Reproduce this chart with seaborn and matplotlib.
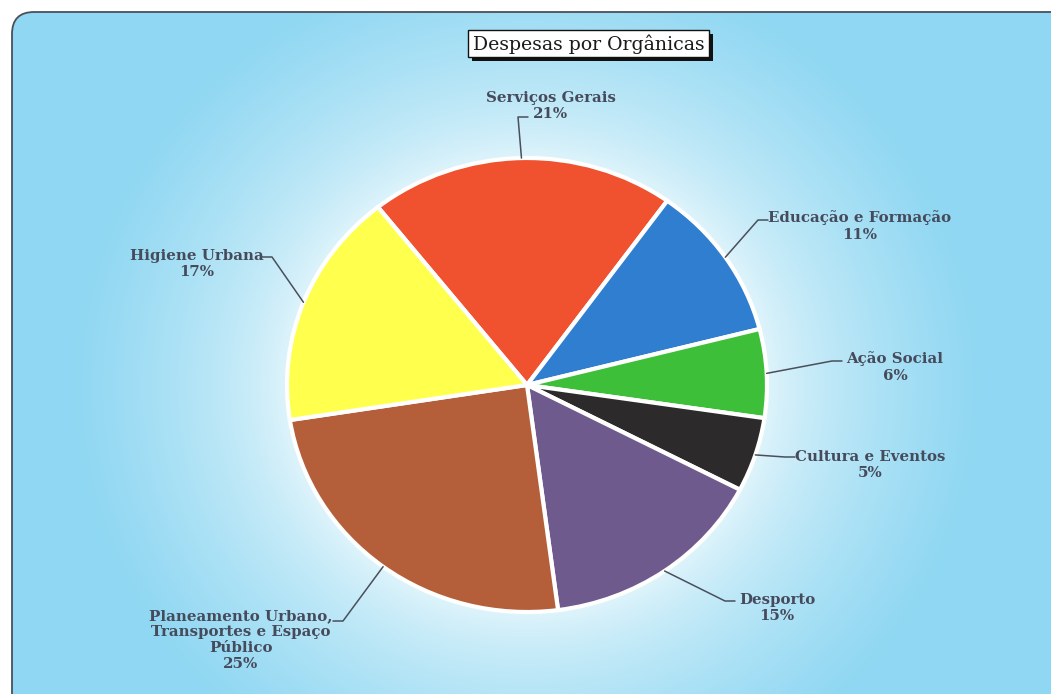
import numpy as np
import matplotlib.pyplot as plt
import seaborn as sns
from matplotlib.patches import FancyBboxPatch, Rectangle

# --- Data ---
categories = [
    'Serviços Gerais',
    'Educação e Formação',
    'Ação Social',
    'Cultura e Eventos',
    'Desporto',
    'Planeamento Urbano,\nTransportes e Espaço\nPúblico',
    'Higiene Urbana',
]
shares = [20.6, 11.1, 6.3, 5.3, 15.3, 24.6, 16.8]
slice_colors = ['#f0522f', '#2f7ed0', '#3dbf3a', '#2d2a2b', '#6f5a8e', '#b45f3a', '#ffff4d']
chart_title = 'Despesas por Orgânicas'

# --- Layout (pixels) ---
W, H = 1051, 694
CX, CY = 527, 385          # pie centre
RX, RY = 240, 227          # pie radii (scan is slightly stretched)
label_centers = [(551, 106), (860, 226), (895, 367), (870, 465),
                 (777, 608), (241, 640), (197, 264)]
label_anchors = [(528, 117), (768, 220), (842, 361), (795, 457),
                 (735, 601), (333, 621), (262, 257)]
text_color = '#464b5c'
blue_bg = np.array([143, 215, 242]) / 255
glow = np.array([240, 250, 253]) / 255


def to_data(px, py):
    return (px - CX) / RX, (CY - py) / RY


sns.set_theme(style='white')
plt.rcParams['font.family'] = ['DejaVu Serif', 'DejaVu Sans']

fig = plt.figure(figsize=(W / 100, H / 100), dpi=100)
fig.patch.set_facecolor('white')

# --- Background with radial glow inside rounded frame ---
bg = fig.add_axes([0, 0, 1, 1])
bg.set_xlim(0, W)
bg.set_ylim(H, 0)
bg.axis('off')

yy, xx = np.mgrid[0:H, 0:W]
d = np.sqrt(((xx - CX) / RX) ** 2 + ((yy - CY) / RY) ** 2)
t = np.clip((d - 0.95) / 0.95, 0, 1) ** 0.6
img = glow[None, None, :] * (1 - t[..., None]) + blue_bg[None, None, :] * t[..., None]

frame = FancyBboxPatch((12, 12), W + 40, H + 40,
                       boxstyle='round,pad=0,rounding_size=22',
                       facecolor='none', edgecolor='#4a4f5a', linewidth=1.3, zorder=3)
bg.add_patch(frame)
im = bg.imshow(img, extent=(0, W, H, 0), zorder=1, aspect='auto')
im.set_clip_path(frame)

# title box with drop shadow
bg.add_patch(Rectangle((472, 34), 241, 27, facecolor='#111111', edgecolor='none', zorder=4))
bg.add_patch(Rectangle((468, 30), 241, 27, facecolor='white', edgecolor='#111111',
                       linewidth=1.0, zorder=5))
bg.text(588.5, 44, chart_title, ha='center', va='center', fontsize=13.6,
        color='#1a1a1a', zorder=6)

# --- Pie ---
ax = fig.add_axes([0, 0, 1, 1])
ax.patch.set_alpha(0)
wedges, _ = ax.pie(shares, colors=slice_colors, startangle=128.4, counterclock=False,
                   wedgeprops=dict(edgecolor='white', linewidth=3))
ax.set_aspect('auto')
ax.set_xlim(-CX / RX, (W - CX) / RX)
ax.set_ylim((CY - H) / RY, CY / RY)
ax.axis('off')

total = sum(shares)
for w, name, v, c, a in zip(wedges, categories, shares, label_centers, label_anchors):
    mid = np.deg2rad((w.theta1 + w.theta2) / 2)
    ex, ey = np.cos(mid), np.sin(mid)
    elbow_px = a[0] - 10 if a[0] > CX else a[0] + 10
    bx, by = to_data(elbow_px, a[1])
    axx, ayy = to_data(*a)
    ax.plot([ex, bx, axx], [ey, by, ayy], color='#4a4f5c', lw=1.1, zorder=5)
    tx, ty = to_data(*c)
    ax.text(tx, ty, f'{name}\n{round(100 * v / total):.0f}%', ha='center', va='center',
            multialignment='center', fontsize=10.8, fontweight='bold', color=text_color,
            linespacing=1.2, zorder=6)

fig.savefig('out.png', dpi=100)
